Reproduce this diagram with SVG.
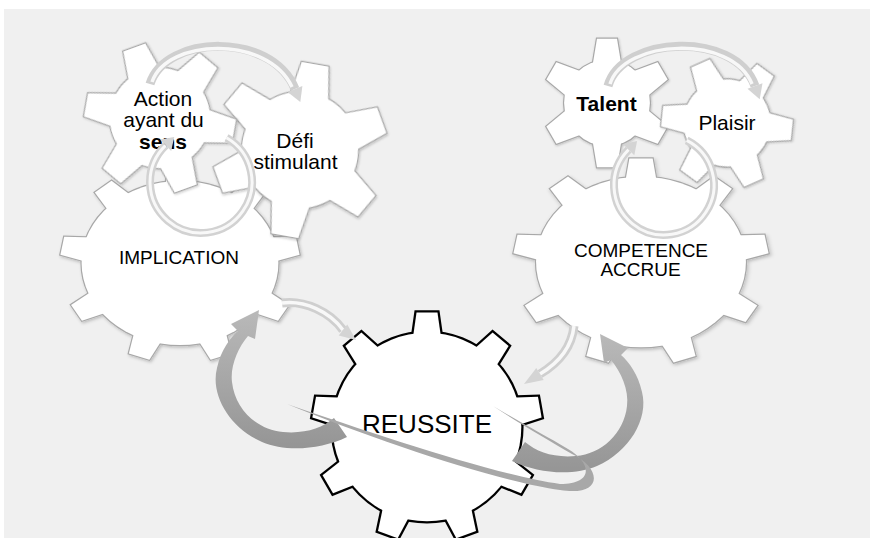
<svg xmlns="http://www.w3.org/2000/svg" xmlns:xlink="http://www.w3.org/1999/xlink" width="870" height="538" viewBox="0 0 870 538">
<style>
.gs{fill:#fff;stroke:#a8a8a8;stroke-width:2.4}
.gf{fill:#fff;stroke:none}
.rs{fill:#fff;stroke:#000;stroke-width:4.6}
text{font-family:"Liberation Sans",Arial,sans-serif;fill:#000;text-anchor:middle}
.t21{font-size:21px}
.t19{font-size:19px}
.t26{font-size:26px}
.b{font-weight:bold}
.lb{fill:none;stroke:#cfcfcf;stroke-width:9;stroke-linecap:butt}
.lh{fill:none;stroke:#f8f8f8;stroke-width:3.5;stroke-linecap:butt}
.rb{fill:none;stroke:#d2d2d2;stroke-width:8}
.rh{fill:none;stroke:#f8f8f8;stroke-width:3}
.lah{fill:#d4d4d4}
</style>
<defs>
<filter id="sh" x="-15%" y="-15%" width="130%" height="130%">
<feDropShadow dx="1" dy="1.5" stdDeviation="1.5" flood-color="#000" flood-opacity="0.22"/>
</filter>
<path id="t9" vector-effect="non-scaling-stroke" d="M-12.6,-75 L-9.1,-99.6 L9.1,-99.6 L12.6,-75 Z"/>
<g id="g9">
<circle r="82" vector-effect="non-scaling-stroke"/>
<use href="#t9"/><use href="#t9" transform="rotate(40)"/><use href="#t9" transform="rotate(80)"/>
<use href="#t9" transform="rotate(120)"/><use href="#t9" transform="rotate(160)"/><use href="#t9" transform="rotate(200)"/>
<use href="#t9" transform="rotate(240)"/><use href="#t9" transform="rotate(280)"/><use href="#t9" transform="rotate(320)"/>
</g>
<path id="t6" vector-effect="non-scaling-stroke" d="M-22.7,-55 L-15.4,-98.8 L15.4,-98.8 L22.7,-55 Z"/>
<g id="g6">
<circle r="66" vector-effect="non-scaling-stroke"/>
<use href="#t6"/><use href="#t6" transform="rotate(60)"/><use href="#t6" transform="rotate(120)"/>
<use href="#t6" transform="rotate(180)"/><use href="#t6" transform="rotate(240)"/><use href="#t6" transform="rotate(300)"/>
</g>
<linearGradient id="dg" x1="0" y1="0" x2="0" y2="1">
<stop offset="0" stop-color="#b9b9b9"/><stop offset="1" stop-color="#959595"/>
</linearGradient>
<path id="darrow" fill="url(#dg)" d="M347,437 C320,450 285,452 262,442 C230,428 210,395 217,368 C221,350 230,338 238,331 L231,324 L259,310 L255,339 L248,336 C238,348 230,366 232,382 C235,410 258,430 283,432 C305,434 322,428 334,418 Z"/>
</defs>

<rect x="4" y="9" width="866" height="529" fill="#f0f0f0"/>

<g id="implication">
<g filter="url(#sh)" transform="translate(180,263) scale(1.2,1)"><use href="#g9" class="gs"/><use href="#g9" class="gf"/></g>
<text class="t19" x="179" y="264">IMPLICATION</text>
</g>
<g id="defi">
<g filter="url(#sh)" transform="translate(300,150) rotate(10) scale(0.88)"><use href="#g6" class="gs"/><use href="#g6" class="gf"/></g>
<text class="t21" x="295" y="148">Défi</text>
<text class="t21" x="295.5" y="169">stimulant</text>
</g>
<g id="action">
<g filter="url(#sh)" transform="translate(160,118) rotate(-20) scale(0.76)"><use href="#g6" class="gs"/><use href="#g6" class="gf"/></g>
<text class="t21" x="163" y="106">Action</text>
<text class="t21" x="163.5" y="127">ayant du</text>
<text class="t21 b" x="163" y="149">sens</text>
</g>

<g id="competence">
<g filter="url(#sh)" transform="translate(641,262) scale(1.28,1.04)"><use href="#g9" class="gs"/><use href="#g9" class="gf"/></g>
<text class="t19" x="641" y="257">COMPETENCE</text>
<text class="t19" x="640.5" y="276">ACCRUE</text>
</g>
<g id="talent">
<g filter="url(#sh)" transform="translate(607,103) scale(0.65)"><use href="#g6" class="gs"/><use href="#g6" class="gf"/></g>
<text class="t21 b" x="606.5" y="111">Talent</text>
</g>
<g id="plaisir">
<g filter="url(#sh)" transform="translate(727,123) rotate(-24) scale(0.66)"><use href="#g6" class="gs"/><use href="#g6" class="gf"/></g>
<text class="t21" x="727" y="130">Plaisir</text>
</g>

<g id="reussite">
<g transform="translate(427,427) scale(1.15)"><use href="#g9" class="rs"/><use href="#g9" class="gf"/></g>
<text class="t26" x="427" y="433">REUSSITE</text>
</g>

<g id="connectors">
<path class="lb" d="M150,84 C165,35 271,31 295,89"/>
<path class="lh" d="M152,82 C167,38 268,35 292,87"/>
<polygon class="lah" points="302.4,86 287.6,92 300.3,101.9"/>
<path class="lb" d="M608,86 C622,36 735,30 755,86"/>
<path class="lh" d="M610,84 C624,39 732,34 752,84"/>
<polygon class="lah" points="762.5,83.3 747.5,88.7 759.7,99.2"/>
<path class="rb" d="M226.5,137.8 A51,51 0 1 1 165.6,145.3"/>
<path class="rh" d="M226.5,137.8 A51,51 0 1 1 165.6,145.3"/>
<polygon class="lah" points="160,139.5 171.2,151.1 174.2,137"/>
<path class="rb" d="M686.7,140.4 A50,50 0 1 1 628.6,149.6"/>
<path class="rh" d="M686.7,140.4 A50,50 0 1 1 628.6,149.6"/>
<polygon class="lah" points="622.9,143.9 634.3,155.3 637.1,141.1"/>
<path class="lb" d="M282,303 C305,300 330,312 343,330"/>
<path class="lh" d="M282,303 C305,300 330,312 343,330"/>
<polygon class="lah" points="347.3,324.5 338.7,335.5 356,340"/>
<path class="lb" d="M574,326 C572,345 560,362 540,374"/>
<path class="lh" d="M574,326 C572,345 560,362 540,374"/>
<polygon class="lah" points="543.7,380 536.3,368 524,384"/>
<use href="#darrow"/>
<use href="#darrow" transform="matrix(-1,0,0,1,859,24)"/>
<path fill="#a8a8a8" d="M287,404 C380,442 500,482 560,490 C604,497 602,468 572,454 C548,440 520,424 493,406 C518,421 546,436 568,449 C592,463 594,484 560,484 C500,476 380,436 287,404 Z"/>
</g>
</svg>
